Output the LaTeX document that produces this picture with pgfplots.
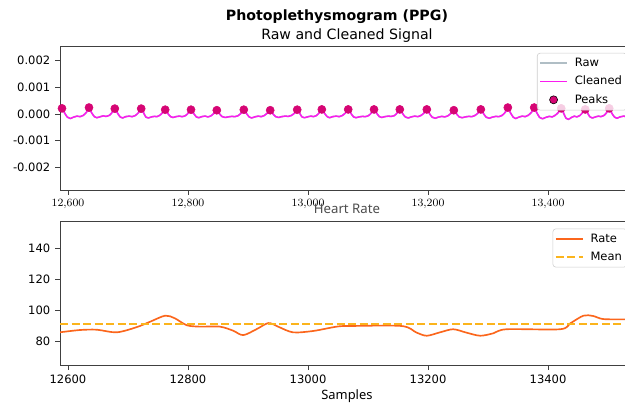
\documentclass[border=0pt]{standalone}
\usepackage{pgfplots}
\pgfplotsset{compat=1.18}
\usepackage{pgfplotstable}
\usepackage{fontspec}
\setmainfont{DejaVu Sans}
\newfontfamily\notosans{Noto Sans}
\definecolor{rawc}{HTML}{B0BEC5}
\definecolor{cleanc}{HTML}{FB1CF0}
\definecolor{peakc}{HTML}{D60574}
\definecolor{ratec}{HTML}{FB661C}
\definecolor{meanc}{HTML}{FBB41C}
\definecolor{tickc}{HTML}{404040}

\pgfplotstableread{
x y
12586 0.00012
12590 0.00021
12594 0.00005
12599 -0.00012
12604 -0.00017
12609 -0.00012
12615 -0.00008
12620 -0.00010
12625 -0.00006
12631 0.00007
12635 0.00024
12639 0.00006
12644 -0.00010
12648 -0.00014
12653 -0.00011
12659 -0.00007
12663 -0.00009
12669 -0.00005
12674 0.00007
12678 0.00020
12682 0.00005
12687 -0.00011
12691 -0.00015
12696 -0.00010
12702 -0.00008
12707 -0.00010
12712 -0.00006
12718 0.00006
12722 0.00020
12726 0.00004
12730 -0.00012
12734 -0.00015
12739 -0.00011
12744 -0.00009
12748 -0.00010
12753 -0.00005
12758 0.00006
12762 0.00016
12766 0.00003
12771 -0.00010
12775 -0.00013
12780 -0.00010
12786 -0.00008
12790 -0.00010
12796 -0.00006
12801 0.00005
12805 0.00016
12809 0.00003
12814 -0.00011
12818 -0.00014
12823 -0.00010
12829 -0.00008
12833 -0.00011
12839 -0.00006
12844 0.00004
12848 0.00014
12852 0.00002
12857 -0.00010
12862 -0.00013
12867 -0.00011
12873 -0.00009
12878 -0.00010
12883 -0.00007
12889 0.00004
12893 0.00016
12897 0.00003
12902 -0.00011
12906 -0.00015
12911 -0.00011
12917 -0.00008
12922 -0.00010
12927 -0.00006
12933 0.00005
12937 0.00014
12941 0.00002
12946 -0.00010
12951 -0.00013
12956 -0.00010
12962 -0.00008
12967 -0.00009
12972 -0.00006
12978 0.00004
12982 0.00016
12986 0.00003
12990 -0.00011
12994 -0.00014
12999 -0.00011
13005 -0.00008
13009 -0.00010
13014 -0.00006
13019 0.00005
13023 0.00017
13027 0.00004
13032 -0.00010
13036 -0.00014
13041 -0.00010
13047 -0.00008
13052 -0.00010
13057 -0.00006
13063 0.00005
13067 0.00017
13071 0.00004
13076 -0.00011
13080 -0.00014
13085 -0.00011
13091 -0.00009
13095 -0.00010
13101 -0.00006
13106 0.00005
13110 0.00017
13114 0.00004
13119 -0.00010
13123 -0.00013
13128 -0.00010
13134 -0.00008
13138 -0.00009
13144 -0.00006
13149 0.00005
13153 0.00017
13157 0.00004
13162 -0.00011
13167 -0.00015
13172 -0.00011
13178 -0.00008
13183 -0.00010
13188 -0.00006
13194 0.00005
13198 0.00017
13202 0.00003
13207 -0.00012
13212 -0.00016
13217 -0.00012
13223 -0.00009
13228 -0.00011
13233 -0.00007
13239 0.00004
13243 0.00014
13247 0.00002
13252 -0.00011
13257 -0.00014
13262 -0.00011
13268 -0.00009
13273 -0.00010
13278 -0.00006
13284 0.00005
13288 0.00017
13292 0.00003
13297 -0.00012
13302 -0.00016
13307 -0.00012
13313 -0.00009
13318 -0.00010
13323 -0.00006
13329 0.00007
13333 0.00024
13337 0.00006
13342 -0.00012
13346 -0.00017
13351 -0.00012
13357 -0.00008
13362 -0.00010
13367 -0.00005
13373 0.00008
13377 0.00024
13381 0.00006
13386 -0.00013
13391 -0.00018
13396 -0.00013
13402 -0.00009
13407 -0.00011
13412 -0.00005
13418 0.00008
13422 0.00021
13426 0.00003
13430 -0.00016
13434 -0.00020
13439 -0.00013
13444 -0.00008
13448 -0.00011
13453 -0.00006
13458 0.00006
13462 0.00017
13466 0.00003
13470 -0.00011
13474 -0.00015
13479 -0.00011
13484 -0.00008
13488 -0.00010
13493 -0.00006
13498 0.00006
13502 0.00021
13506 0.00004
13511 -0.00012
13515 -0.00016
13520 -0.00011
13526 -0.00008
13531 -0.00010
13536 -0.00006
13542 0.00006
13545 0.00010
}\cleaned

\pgfplotstableread{
x y
12590 0.00021
12635 0.00024
12678 0.00020
12722 0.00020
12762 0.00016
12805 0.00016
12848 0.00014
12893 0.00016
12937 0.00014
12982 0.00016
13023 0.00017
13067 0.00017
13110 0.00017
13153 0.00017
13198 0.00017
13243 0.00014
13288 0.00017
13333 0.00024
13377 0.00024
13422 0.00021
13462 0.00017
13502 0.00021
}\peaks

\pgfplotstableread{
x y
12586 85.8
12620 87.3
12648 87.5
12681 85.8
12714 89.1
12737 92.7
12762 96.6
12778 94.9
12798 90.4
12820 89.5
12853 89.5
12875 86.9
12892 84.0
12914 87.8
12934 91.8
12950 89.5
12975 85.8
13009 86.7
13048 89.5
13070 89.9
13156 89.9
13181 85.6
13198 83.6
13220 85.8
13242 87.8
13264 85.6
13287 83.6
13309 85.2
13331 87.8
13420 87.8
13437 91.6
13459 96.6
13475 96.4
13492 94.4
13528 94.2
13545 94.2
}\rate

\begin{document}
\begin{tikzpicture}
\useasboundingbox (0,0) rectangle (450pt,290.88pt);
\pgfplotsset{
  myax/.style={
    scale only axis, width=413.28pt,
    xmin=12586.67, xmax=13543.3,
    axis line style={draw=tickc, line width=0.6pt},
    tick style={draw=tickc, line width=0.6pt},
    tick align=outside, major tick length=3.5pt,
    xtick pos=bottom, ytick pos=left,
    scaled x ticks=false, scaled y ticks=false,
    ticklabel style={font=\fontsize{8.3}{10}\selectfont},
    xtick={12600,12800,13000,13200,13400},
    legend cell align=left,
    legend image code/.code={\draw[##1] (0cm,0cm) -- (0.68cm,0cm);},
    legend style={at={(1,1)}, anchor=north east, xshift=-5pt, yshift=-5pt,
      draw=black!20, fill=white, fill opacity=0.8, text opacity=1, draw opacity=1,
      rounded corners=2pt, font=\fontsize{8.3}{10}\selectfont,
      row sep=1.4pt, inner sep=1.5pt,
      /tikz/every odd column/.append style={column sep=3pt}},
  },
}
\begin{axis}[myax, at={(43.2pt,154.08pt)}, anchor=south west, height=103.68pt,
  ymin=-0.00284, ymax=0.00254,
  ytick={-0.002,-0.001,0,0.001,0.002},
  yticklabels={-0.002,-0.001,0.000,0.001,0.002},
  xticklabel={}, clip=false]
\addplot[draw=rawc, line width=1.1pt, smooth, tension=0.5, forget plot] table {\cleaned};
\addplot[draw=cleanc, line width=1.1pt, line join=round, smooth, tension=0.5, forget plot] table {\cleaned};
\addplot[only marks, mark=*, mark size=2.9pt, mark options={draw=peakc, fill=peakc, line width=0.4pt, fill opacity=1}, forget plot] table {\peaks};
\addlegendimage{legend image code/.code={\draw[draw=rawc, line width=1.2pt] (0cm,0cm) -- (0.68cm,0cm);}}
\addlegendimage{legend image code/.code={\draw[draw=cleanc, line width=1.2pt] (0cm,0cm) -- (0.68cm,0cm);}}
\addlegendimage{legend image code/.code={\fill[fill=peakc, fill opacity=1] (0.34cm,0cm) circle[radius=2.9pt];}}
\legend{Raw,Cleaned,Peaks}
\end{axis}

\begin{axis}[myax, at={(43.2pt,28.08pt)}, anchor=south west, height=103.2pt,
  ymin=64.64, ymax=157.5,
  ytick={80,100,120,140},
  yticklabels={80,100,120,140},
  xticklabels={12600,12800,13000,13200,13400}]
\addplot[draw=ratec, line width=1.2pt, smooth] table {\rate};
\addlegendentry{Rate}
\addplot[draw=meanc, line width=1.1pt, dash pattern=on 5.8pt off 2.5pt] coordinates {(12586.67,91.2) (13543.3,91.2)};
\addlegendentry{Mean}
\end{axis}

\node[font=\bfseries\fontsize{10.2}{12}\selectfont] at (242.6pt,278.7pt) {Photoplethysmogram (PPG)};
\node[font=\fontsize{10.2}{12}\selectfont] at (249.8pt,265.0pt) {Raw and Cleaned Signal};
\node[font=\notosans\fontsize{9.5}{11}\selectfont, text=black!70] at (249.8pt,140.5pt) {Heart Rate};
\node[font=\notosans\fontsize{9.3}{11}\selectfont] at (249.8pt,5.4pt) {Samples};
\end{tikzpicture}
\end{document}
